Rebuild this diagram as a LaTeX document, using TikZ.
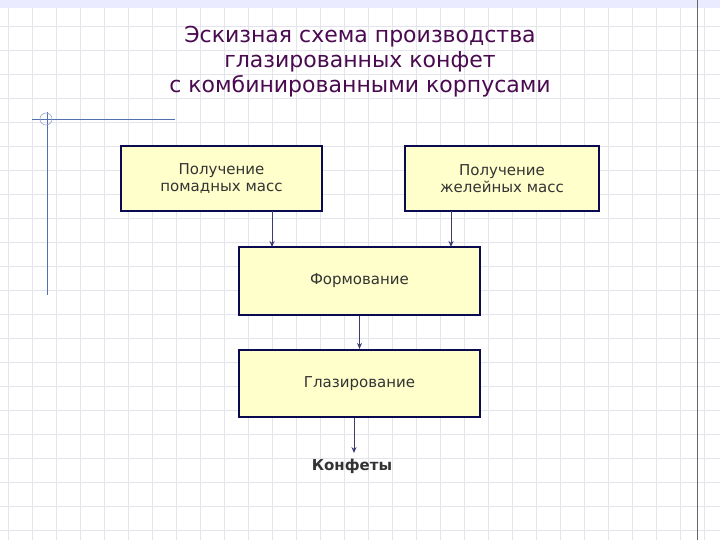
\documentclass[tikz,border=0pt]{standalone}
\usepackage{fontspec}
\setmainfont{DejaVu Sans}
\usetikzlibrary{arrows.meta}
\definecolor{titlec}{HTML}{4A0A50}
\definecolor{boxfill}{HTML}{FFFFCC}
\definecolor{boxline}{HTML}{0A0A50}
\definecolor{gridc}{HTML}{E4E4EC}
\definecolor{linec}{HTML}{5070B0}
\definecolor{textc}{HTML}{333333}
\tikzset{
  proc/.style={draw=boxline, line width=2.2pt, fill=boxfill, align=center, text=textc, font=\fontsize{15}{17}\selectfont, inner sep=0pt},
  arr/.style={draw=boxline!80, line width=1pt, -{Stealth[length=6pt,width=5pt]}}
}
\begin{document}
\begin{tikzpicture}[x=1pt,y=-1pt]
\useasboundingbox (0,0) rectangle (720,540);
\fill[white] (0,0) rectangle (720,540);
\foreach \i in {0,...,30} {\draw[gridc, line width=0.6pt] (\i*24+8,0) -- (\i*24+8,540);}
\foreach \j in {0,...,23} {\draw[gridc, line width=0.6pt] (0,\j*24+2) -- (720,\j*24+2);}
\fill[blue!8] (0,0) rectangle (720,8);
\draw[gray!80!black, line width=0.8pt] (697,0) -- (697,540);
\draw[linec, line width=0.8pt] (32,119) -- (175,119);
\draw[linec, line width=0.8pt] (47,112) -- (47,295);
\draw[linec!60, line width=0.6pt] (46,119) circle (6);
\node[text=titlec, font=\fontsize{22}{25}\selectfont, align=center] (title) at (360,62) {Эскизная схема производства\\глазированных конфет\\с комбинированными корпусами};
\node[proc, minimum width=201pt, minimum height=65pt] (a) at (221.5,178.5) {Получение\\помадных масс};
\node[proc, minimum width=194pt, minimum height=65pt] (b) at (502,178.5) {Получение\\желейных масс};
\node[proc, minimum width=241pt, minimum height=68pt] (c) at (359.5,281) {Формование};
\node[proc, minimum width=241pt, minimum height=67pt] (d) at (359.5,383.5) {Глазирование};
\node[font=\fontsize{15}{17}\selectfont\bfseries, text=textc] (e) at (352,466) {Конфеты};
\coordinate (a1) at (272,211.5); \coordinate (c1) at (272,247);
\coordinate (b1) at (451,211.5); \coordinate (c2) at (451,247);
\coordinate (d1) at (354,417.5); \coordinate (e1) at (354,453);
\draw[arr] (a1) -- (c1);
\draw[arr] (b1) -- (c2);
\draw[arr] (c.south) -- (d.north);
\draw[arr] (d1) -- (e1);
\end{tikzpicture}
\end{document}
